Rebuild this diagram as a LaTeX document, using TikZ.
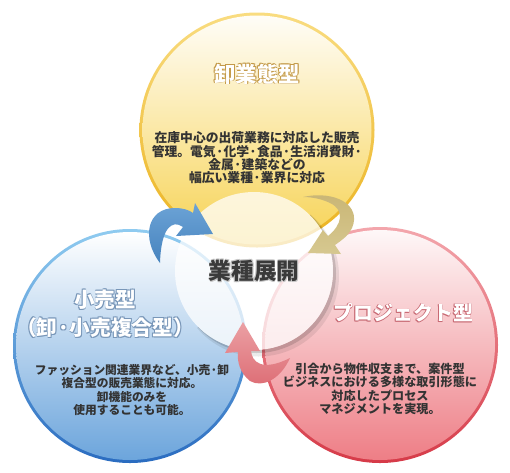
\documentclass[tikz,border=0pt]{standalone}
\usepackage{fontspec}
\newfontfamily\jpfont{Noto Sans CJK JP}
\usetikzlibrary{positioning}
\definecolor{yelfill}{HTML}{F6CF45}
\definecolor{yelringtop}{HTML}{F9DC80}
\definecolor{yelring}{HTML}{EBB21E}
\definecolor{yelglow}{HTML}{C49A48}
\definecolor{bluefill}{HTML}{6CA5DC}
\definecolor{blueringtop}{HTML}{8FCBF0}
\definecolor{bluering}{HTML}{2A6CC0}
\definecolor{blueglow}{HTML}{7896B8}
\definecolor{redfill}{HTML}{EE7E86}
\definecolor{redringtop}{HTML}{F3A6AC}
\definecolor{redring}{HTML}{D63A48}
\definecolor{redglow}{HTML}{C86A74}
\definecolor{bluearrowtop}{HTML}{6CA3D6}
\definecolor{bluearrow}{HTML}{4683BE}
\definecolor{goldarrowtop}{HTML}{C9B574}
\definecolor{goldarrow}{HTML}{D6C890}
\definecolor{redarrowtop}{HTML}{EBA0A4}
\definecolor{redarrow}{HTML}{DD6C74}
\definecolor{textgray}{HTML}{333333}
\definecolor{hubgray}{HTML}{3A3A3A}

% text with a soft coloured halo
\newcommand{\glowtext}[3][white]{%
  \makebox[0pt][l]{\hspace{.7pt}\raisebox{-.7pt}{\textcolor{#2}{#3}}}%
  \makebox[0pt][l]{\hspace{-.5pt}\raisebox{.5pt}{\textcolor{#2}{#3}}}%
  \makebox[0pt][l]{\hspace{.7pt}\raisebox{.5pt}{\textcolor{#2}{#3}}}%
  \makebox[0pt][l]{\hspace{-.5pt}\raisebox{-.7pt}{\textcolor{#2}{#3}}}%
  \textcolor{#1}{#3}}

\begin{document}
\begin{tikzpicture}[
    x=0.75pt, y=-0.75pt,
    font=\jpfont\bfseries,
    title/.style={align=center, font=\jpfont\bfseries\fontsize{16}{21}\selectfont},
    desc/.style={text=textgray, align=center, font=\jpfont\bfseries\fontsize{#1}{10}\selectfont},
    desc/.default=9.2
]
    \useasboundingbox (0,0) rectangle (510,472);

    % Wholesale circle (top)
    \shade[top color=yelringtop, bottom color=yelring] (257,130) circle (117.5);
    \shade[top color=yelfill!4, bottom color=yelfill!92] (257,130) circle (114.5);

    % Retail circle (left)
    \shade[top color=blueringtop, bottom color=bluering] (130,346) circle (117);
    \shade[top color=white, bottom color=bluefill] (130,346) circle (114);

    % Project circle (right)
    \shade[top color=redringtop, bottom color=redring] (380,345) circle (118);
    \shade[top color=redfill!6, bottom color=redfill] (380,345) circle (115);

    % Hub circle with its shadow
    \begin{scope}
        \clip (104,421) -- (404,121) -- (554,271) -- (254,571) -- cycle;
        \fill[black, opacity=.08, even odd rule] (258.5,276) circle (80.5) (254,271) circle (79);
        \fill[black, opacity=.14, even odd rule] (256.5,273.5) circle (79.5) (254,271) circle (79);
    \end{scope}
    \fill[white, opacity=.74] (254,271) circle (79);

    % Cycle arrows
    \shade[top color=bluearrowtop, bottom color=bluearrow] (160,263)
        .. controls (141,238) and (147,208) .. (175,208)
        .. controls (183,208) and (189,210) .. (193,213) -- (195,203) -- (213,234) -- (176,236) -- (183,227)
        .. controls (172,219) and (161,228) .. (160,263) -- cycle;
    \shade[top color=goldarrowtop, bottom color=goldarrow] (303,197)
        .. controls (335,190) and (362,205) .. (352,228)
        .. controls (348,236) and (342,240) .. (335,245) -- (341,254) -- (308,253) -- (323,230) -- (328,236)
        .. controls (342,225) and (345,210) .. (330,203)
        .. controls (322,199) and (312,197) .. (303,197) -- cycle;
    \shade[top color=redarrowtop, bottom color=redarrow] (243,322) -- (260,351) -- (251,351)
        .. controls (252,362) and (262,372) .. (290,358)
        .. controls (280,380) and (262,388) .. (250,381)
        .. controls (240,373) and (237,362) .. (238,352) -- (225,353) -- cycle;

    % Titles
    \node[title] (wholesale) at (257,74) {\glowtext{yelglow}{卸業態型}};
    \node[title, font=\jpfont\bfseries\fontsize{15.5}{21}\selectfont] (retail) at (105,314)
        {\glowtext{blueglow}{小売型}\\\glowtext{blueglow}{（卸·小売複合型）}};
    \node[title, font=\jpfont\bfseries\fontsize{15}{21}\selectfont] (project) at (403,313) {\glowtext{redglow}{プロジェクト型}};
    \node[font=\jpfont\bfseries\fontsize{17}{21}\selectfont] (hub) at (254,271) {\glowtext[hubgray]{black!22}{業種展開}};

    % Descriptions
    \node[desc=9.6] (wholesale_desc) at (257,158)
        {在庫中心の出荷業務に対応した販売\\管理。電気·化学·食品·生活消費財·\\金属·建築などの\\幅広い業種·業界に対応};
    \node[desc=8.8] (retail_desc) at (132,390)
        {ファッション関連業界など、小売·卸\\複合型の販売業態に対応。\\卸機能のみを\\使用することも可能。};
    \node[desc=9.1] (project_desc) at (380,389)
        {引合から物件収支まで、案件型\\ビジネスにおける多様な取引形態に\\対応したプロセス\\マネジメントを実現。};

\end{tikzpicture}
\end{document}
